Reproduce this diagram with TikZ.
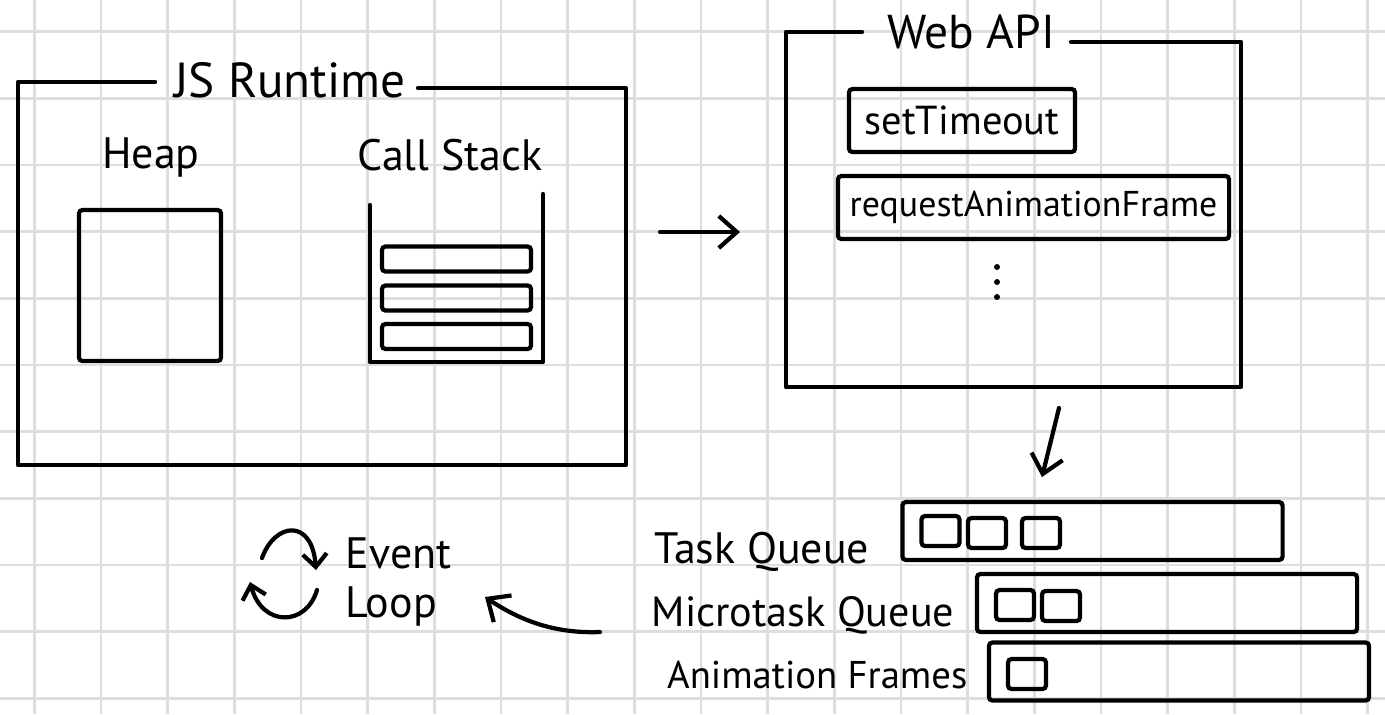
\documentclass[tikz,border=0pt]{standalone}
\usepackage{fontspec}
\setmainfont{PT Sans}
\usetikzlibrary{positioning,arrows.meta}
\definecolor{jsgrid}{HTML}{DEDEDE}

\begin{document}
\begin{tikzpicture}[x=0.01cm,y=-0.01cm,
  gridline/.style={draw=jsgrid,line width=0.8pt},
  frame/.style={line width=1.25pt,line join=round,line cap=round},
  box/.style={draw,rounded corners=1pt,line width=1.2pt,inner sep=0pt},
  slot/.style={box,minimum width=0.38cm,minimum height=0.3cm},
  bar/.style={box,minimum width=1.49cm,minimum height=0.25cm},
  queue/.style={box,minimum width=3.8cm,minimum height=0.58cm},
  ttl/.style={font=\fontsize{14}{17}\selectfont,inner sep=0pt},
  lbl/.style={font=\fontsize{12.5}{13.7}\selectfont,inner sep=0pt},
  ar/.style={-{Straight Barb[length=1.8mm,width=3.2mm]},line width=1.2pt,line cap=round,line join=round},
  sar/.style={ar,-{Straight Barb[length=1.3mm,width=2.4mm]}}]

\useasboundingbox (0,0) rectangle (1385,714);

% ---- grid paper ----
\foreach \i in {0,...,20} \draw[gridline] ({34.3+66.67*\i},0) -- ++(0,714);
\foreach \j in {0,...,10} \draw[gridline] (0,{31.7+66.67*\j}) -- ++(1385,0);

% ---- JS runtime: heap and call stack ----
\node[ttl] (jsrt) at (290,80) {JS Runtime};
\draw[frame] (155,82) -- (18,82) -- (18,465) -- (626,465) -- (626,88) -- (418,88);
\node[lbl] (heaplbl) at (151,157) {Heap};
\node[box,minimum width=1.42cm,minimum height=1.51cm] (heap) at (150,285.5) {};
\node[lbl] (stacklbl) at (450,155) {Call Stack};
\draw[frame] (370,205) -- (370,362) -- (543,362) -- (543,194);
\node[bar] (f1) at (456.5,259) {};
\node[bar] (f2) at (456.5,298) {};
\node[bar] (f3) at (456.5,336.5) {};

% ---- Web API ----
\node[ttl,font=\fontsize{13.5}{16}\selectfont] (webapi) at (971,32) {Web API};
\draw[frame] (862,32) -- (786,32) -- (786,387) -- (1241,387) -- (1241,42) -- (1071,42);
\node[box,font=\fontsize{11.5}{14}\selectfont,minimum width=2.26cm,minimum height=0.63cm] (timeout) at (962,120.5) {setTimeout};
\node[box,font=\fontsize{10.2}{12}\selectfont,minimum width=3.91cm,minimum height=0.63cm] (raf) at (1033.5,207.5) {requestAnimationFrame};
\foreach \k in {0,1,2} \fill (997,{267+15*\k}) circle (0.85pt);

% ---- hand-offs ----
\coordinate (rtA) at (660,232);
\coordinate (rtB) at (740,232);
\draw[ar] (rtA) -- (rtB);
\coordinate (dnA) at (1059,408);
\coordinate (dnB) at (1042,477);
\draw[ar] (dnA) -- (dnB);

% ---- queues ----
\node[queue] (taskq) at (1092.5,531) {};
\node[queue] (microq) at (1167,603) {};
\node[queue] (animq) at (1179,671.5) {};
\node[slot] (t1) at (940.5,531) {};
\node[slot] (t2) at (987,533) {};
\node[slot] (t3) at (1041,533) {};
\node[slot] (m1) at (1015,605) {};
\node[slot] (m2) at (1061,606) {};
\node[slot] (a1) at (1027,674) {};
\node[lbl,anchor=base east] (tasklbl) at (870,563) {Task Queue};
\node[lbl,font=\fontsize{12}{14}\selectfont,anchor=base east] (microlbl) at (955,626) {Microtask Queue};
\node[lbl,font=\fontsize{11}{13}\selectfont,anchor=base east] (animlbl) at (968,688) {Animation Frames};

% ---- event loop ----
\node[lbl,align=left,anchor=west] (evloop) at (345,582) {Event\\Loop};
\draw[sar] (262,558) .. controls (275,522) and (312,518) .. (316,570);
\draw[sar] (317,590) .. controls (306,627) and (262,627) .. (250,582);
\coordinate (fromq) at (600,632);
\coordinate (toloop) at (485,597);
\draw[ar] (fromq) .. controls (550,634) and (515,617) .. (toloop);
\end{tikzpicture}
\end{document}
